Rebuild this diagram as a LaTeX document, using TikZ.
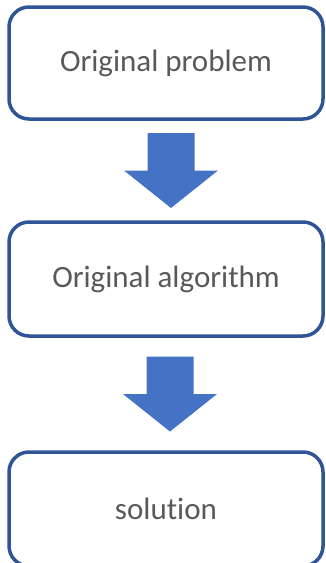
\documentclass[tikz,border=0pt]{standalone}
\usepackage{fontspec}
\setmainfont[RawFeature=-liga]{Carlito}
\usetikzlibrary{calc}
\definecolor{edgeblue}{HTML}{2F5597}
\definecolor{fillblue}{HTML}{4472C4}
\definecolor{txtgray}{HTML}{595959}
\begin{document}
\begin{tikzpicture}[x=1pt,y=-1pt,
  stepbox/.style={draw=edgeblue, line width=3.5pt, rounded corners=20pt,
    fill=white, minimum width=314pt, inner sep=0pt,
    font=\fontsize{31}{36}\selectfont, text=txtgray},
  downarrow/.pic={
    \fill[fillblue] (-23.5,-37.5) -- (23.5,-37.5) -- (23.5,0) -- (47,0)
      -- (0,37.5) -- (-47,0) -- (-23.5,0) -- cycle;}]
  % page frame
  \useasboundingbox (0,0) rectangle (326,563);
  % the three stages
  \node[stepbox, minimum height=112pt] (b1) at (166,63) {Original problem};
  \node[stepbox, minimum height=114pt] (b2) at (166,279) {Original algorithm};
  \node[stepbox, minimum height=114pt] (b3) at (166,509) {solution};
  % block arrows between the stages
  \pic at ($($(b1.south)!0.5!(b2.north)$)+(5,0)$) {downarrow};
  \pic at ($($(b2.south)!0.5!(b3.north)$)+(4,0)$) {downarrow};
\end{tikzpicture}
\end{document}
